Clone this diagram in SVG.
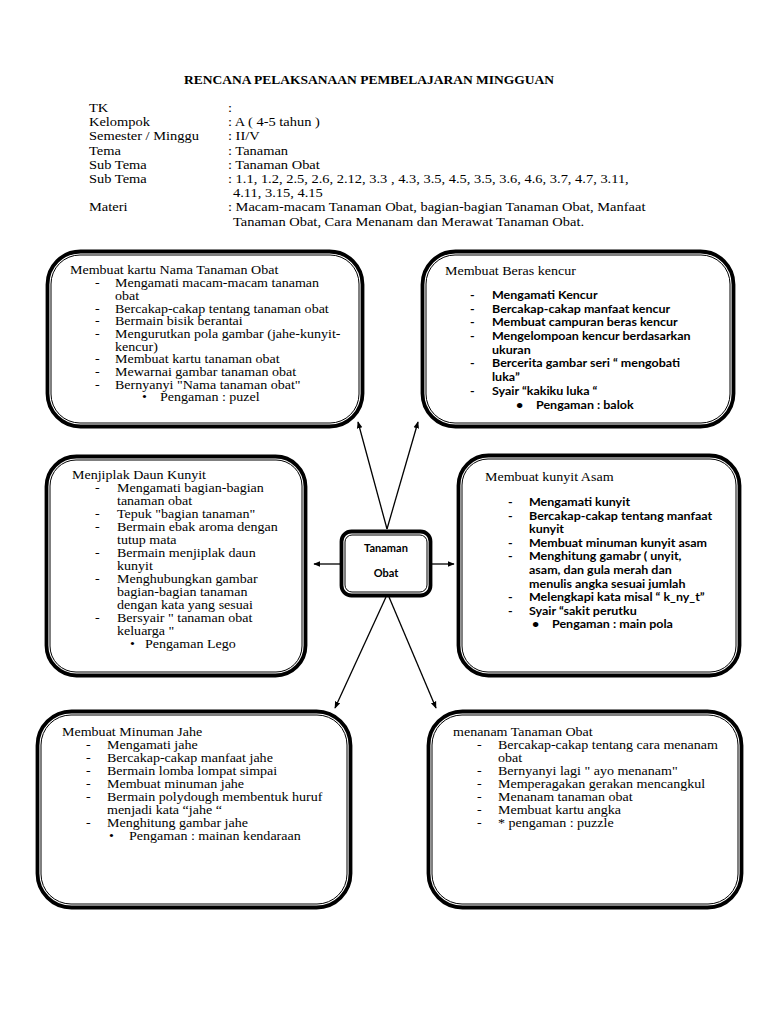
<svg xmlns="http://www.w3.org/2000/svg" width="768" height="1024" viewBox="0 0 768 1024">
<style>
.bg{fill:#fff}
.outer{fill:#fff;stroke:#000;stroke-width:3.8}
.inner{fill:none;stroke:#000;stroke-width:1}
.h{font-family:"Liberation Serif","Times New Roman",serif;font-size:12.8px;fill:#000}
.title{font-family:"Liberation Serif","Times New Roman",serif;font-size:13.5px;font-weight:bold;fill:#000}
.t{font-family:"Liberation Serif","Times New Roman",serif;font-size:12px;fill:#000}
.s{font-family:Lato,"Open Sans",sans-serif;font-size:11px;font-weight:bold;fill:#000}
.c{font-family:Lato,"Open Sans",sans-serif;font-size:11px;font-weight:bold;fill:#000;text-anchor:middle}
.conn{stroke:#000;stroke-width:1.3;fill:none;marker-end:url(#arr)}
</style>
<defs>
<marker id="arr" viewBox="0 0 10 10" refX="9" refY="5" markerWidth="7" markerHeight="7" markerUnits="userSpaceOnUse" orient="auto">
<path d="M0,1 L10,5 L0,9 z" fill="#000"/>
</marker>
</defs>
<rect class="bg" x="0" y="0" width="768" height="1024"/>

<g id="header">
<text class="title" x="369" y="84" text-anchor="middle">RENCANA PELAKSANAAN PEMBELAJARAN MINGGUAN</text>
<g transform="translate(89,0) scale(1.13,1)">
<text class="h" x="0" y="112">TK</text><text class="h" x="123" y="112">:</text>
<text class="h" x="0" y="126.2">Kelompok</text><text class="h" x="123" y="126.2">: A ( 4-5 tahun )</text>
<text class="h" x="0" y="140.4">Semester / Minggu</text><text class="h" x="123" y="140.4">: II/V</text>
<text class="h" x="0" y="154.6">Tema</text><text class="h" x="123" y="154.6">: Tanaman</text>
<text class="h" x="0" y="168.8">Sub Tema</text><text class="h" x="123" y="168.8">: Tanaman Obat</text>
<text class="h" x="0" y="183">Sub Tema</text><text class="h" x="123" y="183">: 1.1, 1.2, 2.5, 2.6, 2.12, 3.3 , 4.3, 3.5, 4.5, 3.5, 3.6, 4.6, 3.7, 4.7, 3.11,</text>
<text class="h" x="127.4" y="197.2">4.11, 3.15, 4.15</text>
<text class="h" x="0" y="211.4">Materi</text><text class="h" x="123" y="211.4">: Macam-macam Tanaman Obat, bagian-bagian Tanaman Obat, Manfaat</text>
<text class="h" x="127.4" y="225.6">Tanaman Obat, Cara Menanam dan Merawat Tanaman Obat.</text>
</g>
</g>

<g id="connectors">
<line class="conn" x1="387" y1="529" x2="358" y2="422"/>
<line class="conn" x1="387" y1="529" x2="418" y2="422"/>
<line class="conn" x1="340" y1="564" x2="314" y2="564"/>
<line class="conn" x1="432" y1="564" x2="454" y2="564"/>
<line class="conn" x1="386" y1="597" x2="335" y2="708"/>
<line class="conn" x1="389" y1="597" x2="436" y2="708"/>
</g>

<g id="node-kartu">
<rect class="outer" x="47.5" y="251.5" width="315" height="175" rx="33"/>
<rect class="inner" x="51" y="255" width="308" height="168" rx="29"/>
<g transform="translate(70,0) scale(1.17,1)">
<text class="t" x="0" y="274.5">Membuat kartu Nama Tanaman Obat</text>
<text class="t" x="21.37" y="287.2">-</text><text class="t" x="38.46" y="287.2">Mengamati macam-macam tanaman</text>
<text class="t" x="38.46" y="299.9">obat</text>
<text class="t" x="21.37" y="312.6">-</text><text class="t" x="38.46" y="312.6">Bercakap-cakap tentang tanaman obat</text>
<text class="t" x="21.37" y="325.3">-</text><text class="t" x="38.46" y="325.3">Bermain bisik berantai</text>
<text class="t" x="21.37" y="338">-</text><text class="t" x="38.46" y="338">Mengurutkan pola gambar (jahe-kunyit-</text>
<text class="t" x="38.46" y="350.7">kencur)</text>
<text class="t" x="21.37" y="363.4">-</text><text class="t" x="38.46" y="363.4">Membuat kartu tanaman obat</text>
<text class="t" x="21.37" y="376.1">-</text><text class="t" x="38.46" y="376.1">Mewarnai gambar tanaman obat</text>
<text class="t" x="21.37" y="388.8">-</text><text class="t" x="38.46" y="388.8">Bernyanyi "Nama tanaman obat"</text>
<text class="t" x="61.54" y="401.5">•</text><text class="t" x="76.92" y="401.5">Pengaman : puzel</text>
</g>
</g>

<g id="node-beras">
<rect class="outer" x="422.5" y="251.5" width="311" height="175" rx="33"/>
<rect class="inner" x="426" y="255" width="304" height="168" rx="29"/>
<g transform="translate(445,0) scale(1.17,1)">
<text class="t" x="0" y="275.5">Membuat Beras kencur</text>
</g>
<g transform="translate(470,0) scale(1.136,1)">
<text class="s" x="0" y="299">-</text><text class="s" x="19.37" y="299">Mengamati Kencur</text>
<text class="s" x="0" y="312.7">-</text><text class="s" x="19.37" y="312.7">Bercakap-cakap manfaat kencur</text>
<text class="s" x="0" y="326.4">-</text><text class="s" x="19.37" y="326.4">Membuat campuran beras kencur</text>
<text class="s" x="0" y="340.1">-</text><text class="s" x="19.37" y="340.1">Mengelompoan kencur berdasarkan</text>
<text class="s" x="19.37" y="353.8">ukuran</text>
<text class="s" x="0" y="367.5">-</text><text class="s" x="19.37" y="367.5">Bercerita gambar seri “ mengobati</text>
<text class="s" x="19.37" y="381.2">luka”</text>
<text class="s" x="0" y="394.9">-</text><text class="s" x="19.37" y="394.9">Syair “kakiku luka “</text>
<text class="s" x="40.49" y="408.6">•</text><text class="s" x="58.1" y="408.6">Pengaman : balok</text>
</g>
</g>

<g id="node-daun">
<rect class="outer" x="46.5" y="456.5" width="259" height="219" rx="30"/>
<rect class="inner" x="50" y="460" width="252" height="212" rx="26"/>
<g transform="translate(72,0) scale(1.17,1)">
<text class="t" x="0" y="479.5">Menjiplak Daun Kunyit</text>
<text class="t" x="19.66" y="492.5">-</text><text class="t" x="38.46" y="492.5">Mengamati bagian-bagian</text>
<text class="t" x="38.46" y="505.5">tanaman obat</text>
<text class="t" x="19.66" y="518.5">-</text><text class="t" x="38.46" y="518.5">Tepuk "bagian tanaman"</text>
<text class="t" x="19.66" y="531.5">-</text><text class="t" x="38.46" y="531.5">Bermain ebak aroma dengan</text>
<text class="t" x="38.46" y="544.5">tutup mata</text>
<text class="t" x="19.66" y="557.5">-</text><text class="t" x="38.46" y="557.5">Bermain menjiplak daun</text>
<text class="t" x="38.46" y="570.5">kunyit</text>
<text class="t" x="19.66" y="583.5">-</text><text class="t" x="38.46" y="583.5">Menghubungkan  gambar</text>
<text class="t" x="38.46" y="596.5">bagian-bagian tanaman</text>
<text class="t" x="38.46" y="609.5">dengan kata yang sesuai</text>
<text class="t" x="19.66" y="622.5">-</text><text class="t" x="38.46" y="622.5">Bersyair " tanaman obat</text>
<text class="t" x="38.46" y="635.5">keluarga "</text>
<text class="t" x="49.57" y="648.5">•</text><text class="t" x="62.4" y="648.5">Pengaman Lego</text>
</g>
</g>

<g id="node-kunyit">
<rect class="outer" x="458.5" y="455.5" width="281" height="220" rx="30"/>
<rect class="inner" x="462" y="459" width="274" height="213" rx="26"/>
<g transform="translate(485,0) scale(1.17,1)">
<text class="t" x="0" y="481.5">Membuat kunyit Asam</text>
</g>
<g transform="translate(508,0) scale(1.136,1)">
<text class="s" x="0" y="506">-</text><text class="s" x="18.49" y="506">Mengamati kunyit</text>
<text class="s" x="0" y="519.6">-</text><text class="s" x="18.49" y="519.6">Bercakap-cakap tentang manfaat</text>
<text class="s" x="18.49" y="533.2">kunyit</text>
<text class="s" x="0" y="546.8">-</text><text class="s" x="18.49" y="546.8">Membuat minuman kunyit asam</text>
<text class="s" x="0" y="560.4">-</text><text class="s" x="18.49" y="560.4">Menghitung gamabr ( unyit,</text>
<text class="s" x="18.49" y="574">asam, dan gula merah dan</text>
<text class="s" x="18.49" y="587.6">menulis angka sesuai jumlah</text>
<text class="s" x="0" y="601.2">-</text><text class="s" x="18.49" y="601.2">Melengkapi kata misal “ k_ny_t”</text>
<text class="s" x="0" y="614.8">-</text><text class="s" x="18.49" y="614.8">Syair “sakit perutku</text>
<text class="s" x="21.13" y="628.4">•</text><text class="s" x="38.73" y="628.4">Pengaman : main pola</text>
</g>
</g>

<g id="node-center">
<rect class="outer" x="341.5" y="531.5" width="89" height="64" rx="10"/>
<rect class="inner" x="345" y="535" width="82" height="57" rx="7"/>
<text class="c" x="386" y="552">Tanaman</text>
<text class="c" x="386" y="577">Obat</text>
</g>

<g id="node-jahe">
<rect class="outer" x="37.5" y="711.5" width="313" height="196" rx="34"/>
<rect class="inner" x="41" y="715" width="306" height="189" rx="30"/>
<g transform="translate(62,0) scale(1.17,1)">
<text class="t" x="0" y="736.5">Membuat Minuman Jahe</text>
<text class="t" x="20.51" y="749.4">-</text><text class="t" x="38.46" y="749.4">Mengamati jahe</text>
<text class="t" x="20.51" y="762.3">-</text><text class="t" x="38.46" y="762.3">Bercakap-cakap manfaat jahe</text>
<text class="t" x="20.51" y="775.2">-</text><text class="t" x="38.46" y="775.2">Bermain lomba lompat simpai</text>
<text class="t" x="20.51" y="788.1">-</text><text class="t" x="38.46" y="788.1">Membuat minuman jahe</text>
<text class="t" x="20.51" y="801">-</text><text class="t" x="38.46" y="801">Bermain polydough membentuk huruf</text>
<text class="t" x="38.46" y="813.9">menjadi kata “jahe “</text>
<text class="t" x="20.51" y="826.8">-</text><text class="t" x="38.46" y="826.8">Menghitung gambar jahe</text>
<text class="t" x="40.17" y="839.7">•</text><text class="t" x="57.26" y="839.7">Pengaman : mainan kendaraan</text>
</g>
</g>

<g id="node-menanam">
<rect class="outer" x="428.5" y="711.5" width="313" height="196" rx="34"/>
<rect class="inner" x="432" y="715" width="306" height="189" rx="30"/>
<g transform="translate(453,0) scale(1.17,1)">
<text class="t" x="0" y="736.5">menanam Tanaman Obat</text>
<text class="t" x="20.51" y="749.4">-</text><text class="t" x="38.46" y="749.4">Bercakap-cakap tentang cara menanam</text>
<text class="t" x="38.46" y="762.3">obat</text>
<text class="t" x="20.51" y="775.2">-</text><text class="t" x="38.46" y="775.2">Bernyanyi lagi " ayo menanam"</text>
<text class="t" x="20.51" y="788.1">-</text><text class="t" x="38.46" y="788.1">Memperagakan gerakan mencangkul</text>
<text class="t" x="20.51" y="801">-</text><text class="t" x="38.46" y="801">Menanam tanaman obat</text>
<text class="t" x="20.51" y="813.9">-</text><text class="t" x="38.46" y="813.9">Membuat kartu angka</text>
<text class="t" x="20.51" y="826.8">-</text><text class="t" x="38.46" y="826.8">* pengaman : puzzle</text>
</g>
</g>
</svg>
